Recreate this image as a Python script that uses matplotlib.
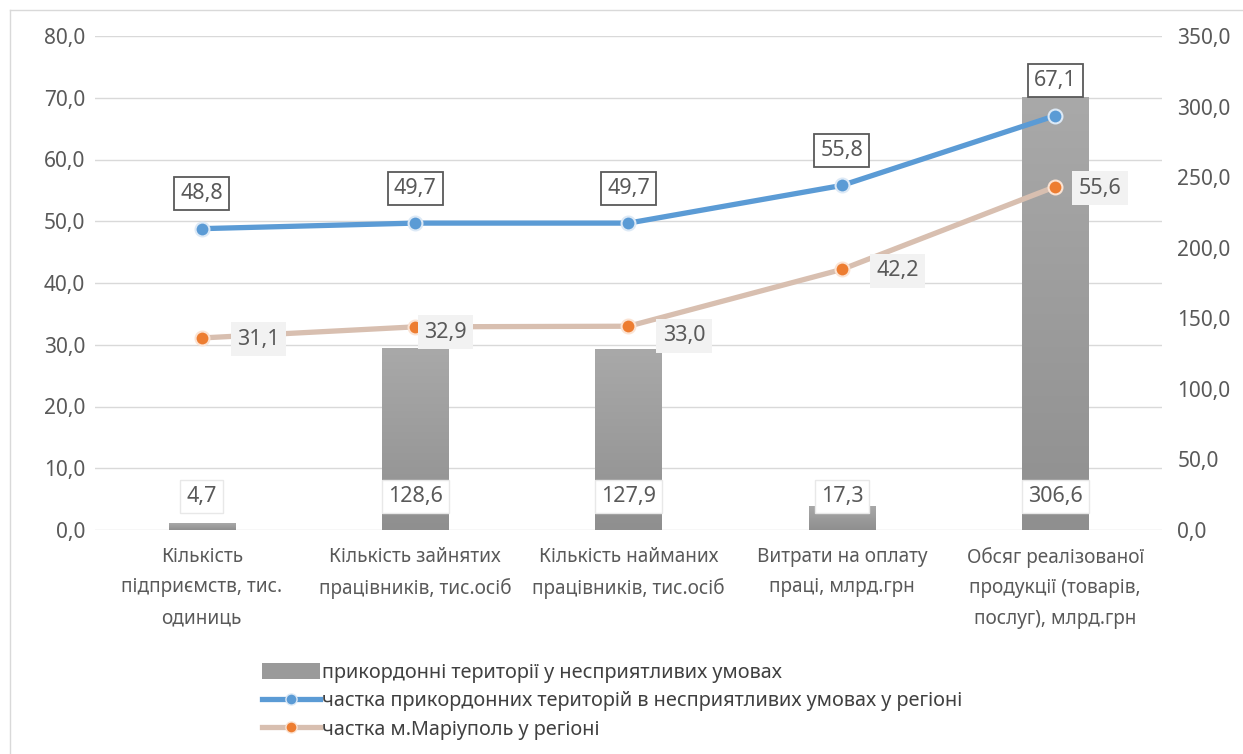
import numpy as np
import matplotlib
matplotlib.use('Agg')
import matplotlib.pyplot as plt
from matplotlib.lines import Line2D
from matplotlib.patches import Patch

categories = ['Кількість\nпідприємств, тис.\nодиниць',
              'Кількість зайнятих\nпрацівників, тис.осіб',
              'Кількість найманих\nпрацівників, тис.осіб',
              'Витрати на оплату\nпраці, млрд.грн',
              'Обсяг реалізованої\nпродукції (товарів,\nпослуг), млрд.грн']
border_values = [4.7, 128.6, 127.9, 17.3, 306.6]
border_share = [48.8, 49.7, 49.7, 55.8, 67.1]
mariupol_share = [31.1, 32.9, 33.0, 42.2, 55.6]

series_names = ['прикордонні території у несприятливих умовах',
                'частка прикордонних територій в несприятливих умовах у регіоні',
                'частка м.Маріуполь у регіоні']

plt.rcParams['font.family'] = ['Noto Sans', 'DejaVu Sans']
TXT = '#595959'

fig = plt.figure(figsize=(12.43, 7.54), dpi=100)
W, H = 1243, 754
ax = fig.add_axes([95 / W, 1 - 530 / H, (1162 - 95) / W, (530 - 36) / H])
ax2 = ax.twinx()

x = np.arange(len(categories))

# bars on the right-hand axis (0..350)
ax.yaxis.tick_right()
ax.set_yticks(np.arange(0, 351, 50))
ax.set_yticklabels([f'{v:.1f}'.replace('.', ',') for v in np.arange(0, 351, 50)])

# gridlines follow the left axis ticks
for v in np.arange(0, 81, 10):
    ax.axhline(v * 350 / 80, color='#d9d9d9', lw=1, zorder=0)

bars = ax.bar(x, border_values, width=0.31, color='none', zorder=2)
grad = np.linspace(0, 1, 256).reshape(-1, 1)
cmap = matplotlib.colors.LinearSegmentedColormap.from_list('g', ['#8f8f8f', '#a9a9a9'])
for b in bars:
    x0, w, h = b.get_x(), b.get_width(), b.get_height()
    im = ax.imshow(grad, cmap=cmap, origin='lower', extent=[x0, x0 + w, 0, h],
                   aspect='auto', zorder=2)
    im.set_clip_path(b)
ax.set_xlim(-0.5, len(categories) - 0.5)
ax.set_ylim(0, 350)

for i, v in enumerate(border_values):
    ax.annotate(f'{v:.1f}'.replace('.', ','), xy=(i, 0), xytext=(0, 24),
                textcoords='offset points', ha='center', va='center',
                fontsize=15.5, color=TXT, zorder=5,
                bbox=dict(boxstyle='square,pad=0.28', fc='white', ec='#e8e8e8', lw=1))

# lines on the left-hand axis (0..80)
ax2.yaxis.tick_left()
ax2.set_ylim(0, 80)
ax2.set_yticks(np.arange(0, 81, 10))
ax2.set_yticklabels([f'{v:.1f}'.replace('.', ',') for v in np.arange(0, 81, 10)])

ax2.plot(x, mariupol_share, color='#d8bfb0', lw=3.8, marker='o', ms=10,
         mfc='#ed7d31', mec='#fbe3d3', mew=1.5, zorder=3)
ax2.plot(x, border_share, color='#5b9bd5', lw=3.8, marker='o', ms=10,
         mfc='#5b9bd5', mec='#dce9f6', mew=1.5, zorder=4)

for i, v in enumerate(border_share):
    ax2.annotate(f'{v:.1f}'.replace('.', ','), xy=(i, v), xytext=(0, 25),
                 textcoords='offset points', ha='center', va='center',
                 fontsize=15.5, color=TXT, zorder=6,
                 bbox=dict(boxstyle='square,pad=0.28', fc='white', ec='#595959', lw=1.3))

orange_offsets = [(41, -1), (22, -4), (40, -7), (40, -1), (32, -1)]
for i, v in enumerate(mariupol_share):
    ax2.annotate(f'{v:.1f}'.replace('.', ','), xy=(i, v), xytext=orange_offsets[i],
                 textcoords='offset points', ha='center', va='center',
                 fontsize=15.5, color=TXT, zorder=6,
                 bbox=dict(boxstyle='square,pad=0.3', fc='#f2f2f2', ec='none'))

for a in (ax, ax2):
    for s in a.spines.values():
        s.set_visible(False)
    a.tick_params(axis='y', length=0, labelsize=15, labelcolor=TXT)
ax2.tick_params(axis='y', pad=7)
ax.tick_params(axis='y', pad=11)
ax.tick_params(axis='x', length=0, pad=12)
ax.set_xticks(x)
ax.set_xticklabels(categories, fontsize=13.7, color=TXT, linespacing=1.72)

ax2.set_zorder(ax.get_zorder() + 1)
ax2.patch.set_visible(False)

handles = [Patch(facecolor='#9a9a9a'),
           Line2D([], [], color='#5b9bd5', lw=3.8, marker='o', ms=8, mfc='#5b9bd5', mec='#dce9f6'),
           Line2D([], [], color='#d8bfb0', lw=3.8, marker='o', ms=8, mfc='#ed7d31', mec='#fbe3d3')]
fig.legend(handles, series_names, loc='upper left', bbox_to_anchor=(252 / W, 1 - 653 / H),
           frameon=False, fontsize=14.3, labelcolor='#404040', handlelength=2.9,
           handleheight=0.8, handletextpad=0.1, labelspacing=0.42, borderpad=0)

# outer frame of the chart area
fig.add_artist(Line2D([10 / W, 10 / W], [0, 1 - 10 / H], color='#d9d9d9', lw=1))
fig.add_artist(Line2D([10 / W, 1], [1 - 10 / H, 1 - 10 / H], color='#d9d9d9', lw=1))

fig.savefig('out.png', dpi=100)
